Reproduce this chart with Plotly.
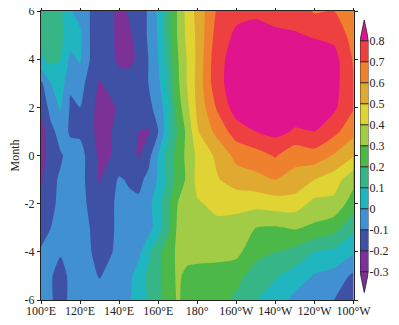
import plotly.graph_objects as go

lons = [100,105,110,115,120,125,130,135,140,145,150,155,160,165,170,175,180,190,200,210,220,230,240,250,260]
months = [-6,-5,-4,-3,-2,-1,0,1,2,3,4,5,6]
m_p6 = [.13,.16,.12,.01,-.04,-.10,-.14,-.18,-.22,-.19,-.15,-.09,.02,.17,.31,.44,.53,.71,.77,.785,.76,.75,.69,.70,.63]
m_p5 = [.12,.16,.12,.04,.02,-.10,-.14,-.18,-.22,-.22,-.15,-.09,.01,.16,.31,.43,.52,.74,.82,.83,.82,.81,.79,.77,.66]
m_p4 = [.08,.13,.10,-.02,.01,-.10,-.14,-.17,-.22,-.23,-.18,-.10,.0,.13,.29,.41,.52,.77,.84,.85,.85,.85,.86,.84,.69]
m_p3 = [-.12,.0,.06,-.09,-.05,-.15,-.21,-.17,-.16,-.15,-.13,-.10,-.02,.10,.28,.41,.53,.77,.85,.86,.86,.86,.85,.84,.70]
m_p2 = [-.19,-.06,.01,-.11,-.10,-.16,-.24,-.23,-.18,-.16,-.14,-.12,-.07,.08,.25,.38,.52,.71,.85,.85,.85,.85,.84,.82,.71]
m_p1 = [-.25,-.13,-.06,-.11,-.11,-.15,-.26,-.21,-.17,-.16,-.20,-.21,-.10,.07,.21,.33,.49,.63,.75,.80,.83,.79,.80,.73,.63]
m_00 = [-.25,-.15,-.11,-.07,-.08,-.12,-.23,-.21,-.16,-.15,-.21,-.14,.01,.13,.24,.33,.42,.52,.63,.66,.71,.63,.66,.59,.51]
m_n1 = [-.22,-.12,-.09,-.07,-.08,-.12,-.21,-.14,-.09,-.11,-.13,-.07,.01,.12,.24,.32,.43,.49,.55,.57,.60,.57,.50,.45,.33]
m_n2 = [-.17,-.11,-.09,-.07,-.08,-.11,-.18,-.12,-.08,-.08,-.08,-.03,.06,.18,.30,.34,.39,.42,.43,.43,.45,.45,.37,.37,.25]
m_n3 = [-.14,-.10,-.08,-.07,-.07,-.10,-.16,-.12,-.08,-.08,-.08,-.04,.05,.17,.32,.33,.36,.38,.36,.30,.29,.31,.28,.24,.12]
m_n4 = [-.09,-.08,-.09,-.08,-.07,-.09,-.15,-.11,-.08,-.07,-.03,.08,.17,.25,.32,.34,.34,.34,.33,.23,.20,.17,.10,.08,.01]
m_n5 = [-.07,-.09,-.14,-.08,-.06,-.08,-.105,-.08,-.06,-.03,.05,.12,.18,.24,.32,.27,.26,.25,.23,.16,.11,.06,-.01,-.04,-.12]
m_n6 = [-.07,-.09,-.14,-.08,-.06,-.06,-.06,-.05,-.04,-.01,.04,.11,.18,.25,.31,.27,.25,.23,.18,.10,.05,-.03,-.07,-.10,-.18]
z = [m_n6,m_n5,m_n4,m_n3,m_n2,m_n1,m_00,m_p1,m_p2,m_p3,m_p4,m_p5,m_p6]

levels = [-.3,-.2,-.1,0,.1,.2,.3,.4,.5,.6,.7,.8]
level_labels = ["-0.3","-0.2","-0.1","0","0.1","0.2","0.3","0.4","0.5","0.6","0.7","0.8"]
band_colors = ["#7b3196","#7b3196","#3f51a5","#4191d2","#1fb6bf","#36b586","#4cb848","#a2cc46","#e0d334","#e0a92f","#ef802e","#ee4040","#e0148c"]
x_ticks = [100,120,140,160,180,200,220,240,260]
x_labels = ["100°E","120°E","140°E","160°E","180°","160°W","140°W","120°W","100°W"]
y_ticks = [-6,-4,-2,0,2,4,6]
y_labels = ["-6","-4","-2","0","2","4","6"]

OFF = 8   # the page body's own margin
W, H = 391, 317
FONT = "Liberation Serif"
n = len(band_colors)
scale = []
for i, c in enumerate(band_colors):
    scale += [[i/n, c], [(i+1)/n, c]]

fig = go.Figure()
fig.add_trace(go.Contour(
    x=lons, y=months, z=z, zmin=-.4, zmax=.9, colorscale=scale, showscale=False,
    autocontour=False, contours=dict(start=-.3, end=.8, size=.1, coloring="fill", showlines=False),
    line=dict(width=0, smoothing=.6), hoverinfo="skip",
))

edges = [-.4] + levels + [.9]
for i, c in enumerate(band_colors):
    lo, hi = edges[i], edges[i+1]
    if i == 0:
        xs, ys = [0, 1, .5, 0], [hi, hi, lo, hi]
    elif i == n-1:
        xs, ys = [0, 1, .5, 0], [lo, lo, hi, lo]
    else:
        xs, ys = [0, 1, 1, 0, 0], [lo, lo, hi, hi, lo]
    fig.add_trace(go.Scatter(x=xs, y=ys, xaxis="x2", yaxis="y2", mode="lines", fill="toself",
                             fillcolor=c, line=dict(color="#222222", width=.8),
                             showlegend=False, hoverinfo="skip"))

tick = dict(ticks="outside", ticklen=3, tickwidth=1, tickcolor="#222222", showgrid=False, zeroline=False,
            showline=True, linecolor="#222222", linewidth=1, mirror="ticks", automargin=False, tickangle=0,
            ticklabeloverflow="allow", tickfont=dict(family=FONT, size=12, color="#222222"))
fig.update_layout(
    width=W, height=H, margin=dict(l=0, r=0, t=0, b=0), paper_bgcolor="white", plot_bgcolor="white",
    showlegend=False,
    xaxis=dict(domain=[(41-OFF)/W, (353.5-OFF)/W], range=[100,260], tickmode="array", tickvals=x_ticks, ticktext=x_labels, ticklabelstandoff=-3, **tick),
    yaxis=dict(domain=[(H-(300-OFF))/H, (H-(11-OFF))/H], range=[-6,6], tickmode="array", tickvals=y_ticks, ticktext=y_labels,
               title=dict(text="Month", font=dict(family=FONT, size=12, color="#222222")), **tick),
    xaxis2=dict(domain=[(360-OFF)/W, (368.5-OFF)/W], range=[0,1], anchor="y2", visible=False, automargin=False),
    yaxis2=dict(domain=[(H-(292.7-OFF))/H, (H-(19.7-OFF))/H], range=[-.4,.9], anchor="x2", side="right", tickmode="array",
                tickvals=levels, ticktext=level_labels, ticks="", showgrid=False, zeroline=False, showline=False,
                automargin=False, tickangle=0, ticklabeloverflow="allow", tickfont=dict(family=FONT, size=12, color="#222222")),
)
fig.write_html("out.html")
